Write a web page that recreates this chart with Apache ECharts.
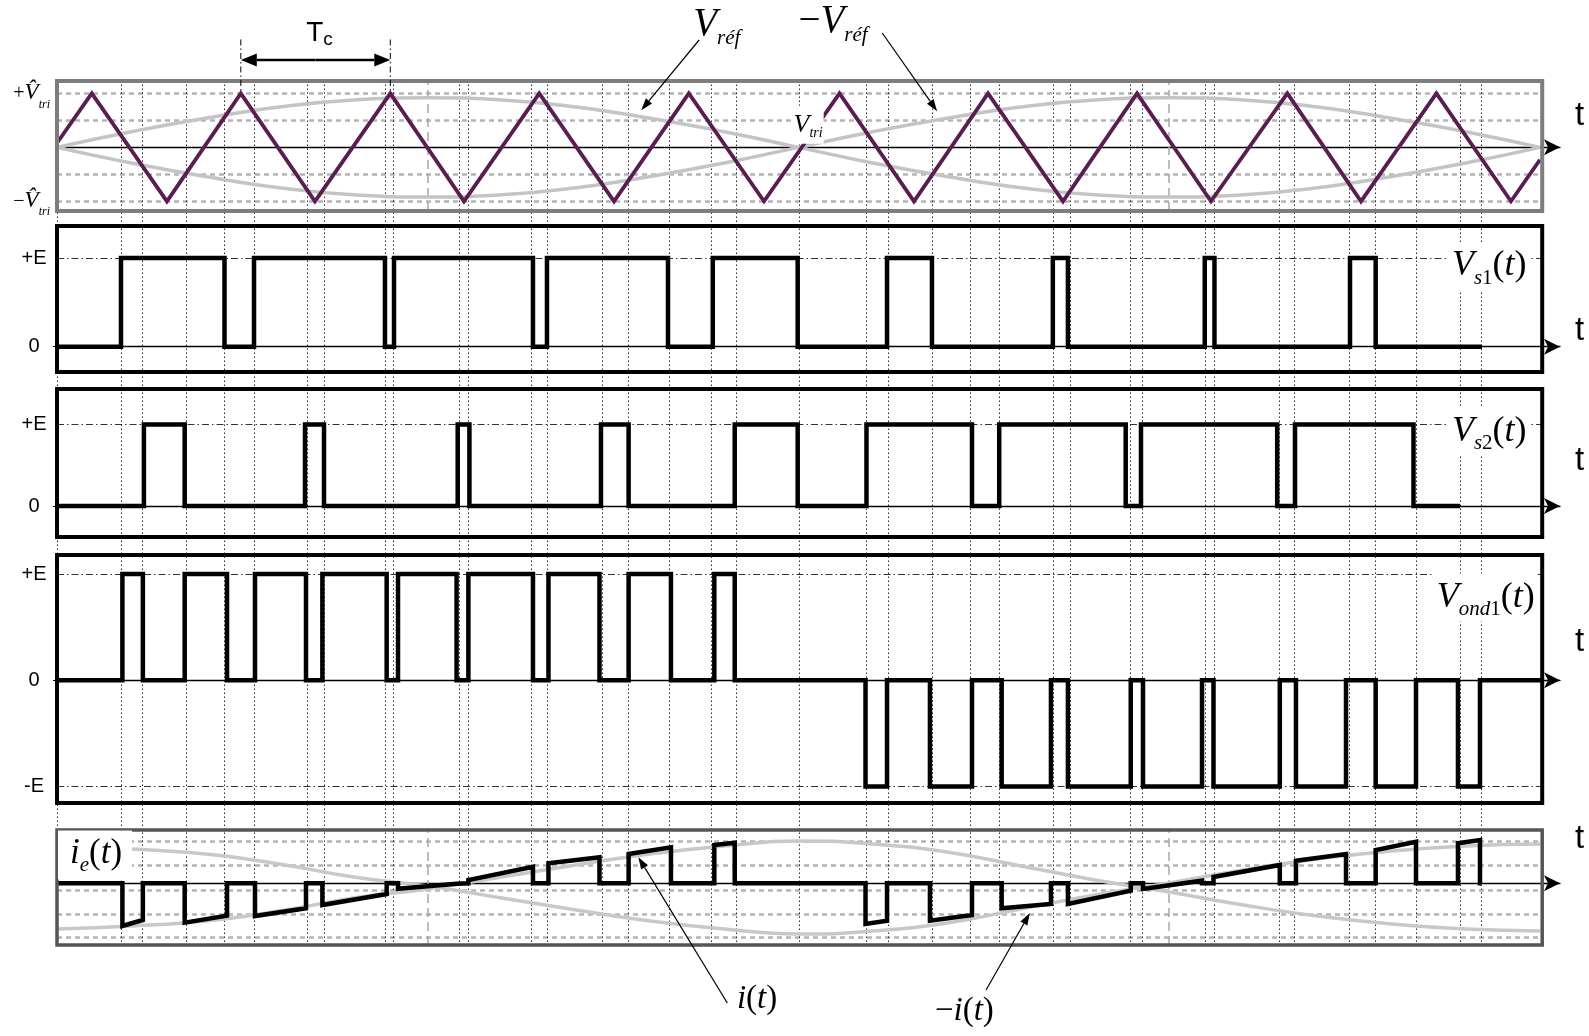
<!DOCTYPE html>
<html>
<head>
<meta charset="utf-8">
<title>MLI unipolaire</title>
<script src="https://cdn.jsdelivr.net/npm/echarts@6.0.0/dist/echarts.min.js"></script>
<style>
  html, body { margin: 0; padding: 0; background: #ffffff; }
  #main { width: 1589px; height: 1036px; }
</style>
</head>
<body>
<div id="main"></div>
<script>
// time in ms over one 20 ms period of the reference, levels normalised (E = 1)
const tBox = 20.03;   // right edge of the panel frames
const tAxis = 20.27;  // end of the t arrows

// carrier triangle, vertices
const triT = [0, 0.469, 1.483, 2.479, 3.479, 4.495, 5.489, 6.504, 7.512, 8.521, 9.535,
  10.553, 11.558, 12.556, 13.567, 14.565, 15.563, 16.593, 17.586, 18.603, 19.609, 20.0];
const triV = [0.08, 1, -1, 1, -1, 1, -1, 1, -1, 1, -1, 1, -1, 1, -1, 1, -1, 1, -1, 1, -1, -0.23];

// references +Vref / -Vref, read every ms
const refT = [0, 1, 2, 3, 4, 5, 6, 7, 8, 9, 10, 11, 12, 13, 14, 15, 16, 17, 18, 19, 20];
const vRef = [0, 0.29, 0.54, 0.75, 0.88, 0.92, 0.88, 0.75, 0.54, 0.29, 0,
  -0.29, -0.54, -0.75, -0.88, -0.92, -0.88, -0.75, -0.54, -0.29, 0];
const vRefNeg = [0, -0.29, -0.54, -0.75, -0.88, -0.92, -0.88, -0.75, -0.54, -0.29, 0,
  0.29, 0.54, 0.75, 0.88, 0.92, 0.88, 0.75, 0.54, 0.29, 0];

// switching instants (dotted verticals through every panel)
const switchTimes = [0, 0.862, 1.150, 1.742, 2.259, 2.658, 3.366, 3.601, 4.426, 4.543, 5.424, 5.541,
  6.387, 6.608, 7.350, 7.695, 8.259, 8.829, 9.160, 10.009, 10.917, 11.207, 11.798, 12.307, 12.707,
  13.430, 13.656, 14.481, 14.632, 15.479, 15.610, 16.477, 16.684, 17.434, 17.784, 18.328, 18.920, 19.212];

// Vs1, Vs2 : intervals at +E
const vs1Pulses = [[0.863, 2.259], [2.657, 4.423], [4.545, 6.419], [6.608, 8.240], [8.844, 9.989],
  [11.194, 11.800], [13.430, 13.634], [15.479, 15.610], [17.438, 17.784]];
const vs1Stop = 19.218;
const vs2Pulses = [[1.172, 1.722], [3.345, 3.601], [5.404, 5.562], [7.336, 7.709], [9.140, 9.989],
  [10.917, 12.340], [12.707, 14.413], [14.619, 16.456], [16.696, 18.294]];
const vs2Stop = 18.921;

// Vond1 : non zero intervals [start, end, level]
const vondPulses = [[0.882, 1.158, 1], [1.722, 2.293, 1], [2.670, 3.358, 1], [3.579, 4.446, 1],
  [4.599, 5.389, 1], [5.548, 6.419, 1], [6.628, 7.316, 1], [7.709, 8.280, 1], [8.865, 9.140, 1],
  [10.904, 11.194, -1], [11.773, 12.340, -1], [12.740, 13.405, -1], [13.634, 14.481, -1],
  [14.646, 15.442, -1], [15.597, 16.491, -1], [16.709, 17.384, -1], [17.784, 18.328, -1], [18.894, 19.191, -1]];

// ie(t) at the start / end of each Vond1 pulse
const ieStart = [-0.949, -0.876, -0.727, -0.482, -0.12, 0.073, 0.444, 0.651, 0.851,
  -0.904, -0.831, -0.556, -0.46, -0.127, 0.14, 0.502, 0.74, 0.889];
const ieEnd = [-0.816, -0.72, -0.556, -0.238, -0.01, 0.369, 0.578, 0.80, 0.902,
  -0.831, -0.704, -0.46, -0.164, 0.058, 0.407, 0.651, 0.924, 0.962];
const ieStop = 19.21;

// grey i(t) and -i(t) of the bottom panel, read every ms
const iGray = [-1.016, -0.949, -0.838, -0.616, -0.327, -0.127, 0.14, 0.407, 0.651, 0.829, 0.94,
  0.873, 0.696, 0.384, 0.073, -0.193, -0.482, -0.727, -0.904, -1.016, -1.06];
const iGrayNeg = [0.829, 0.762, 0.651, 0.429, 0.14, -0.06, -0.327, -0.593, -0.838, -1.016, -1.127,
  -1.06, -0.882, -0.571, -0.26, 0.007, 0.296, 0.54, 0.718, 0.829, 0.873];

// scope grid
const triGridLevels = [1, 0.5, -0.5, -1];
const iGridLevels = [0.924, 0.407, -0.149, -0.68, -1.2];
const scopeT = [5, 15];

const SERIF = '"Liberation Serif", "Times New Roman", serif';
const SANS = '"Liberation Sans", Arial, sans-serif';

// panel layout
const gridBox = [[81, 130], [226, 146], [389, 148], [555, 248], [830, 115], [81, 865]];
const yRange = [[-1.18, 1.23], [-0.285, 1.361], [-0.38, 1.436], [-1.156, 1.18], [-1.371, 1.184], [0, 1]];
const tLift = [31, 16, 45, 38, 44];   // height of the "t" above each time axis, px

function steps(pulses, tStop) {
  const pts = [[0, 0]];
  pulses.forEach(p => {
    const lvl = p.length > 2 ? p[2] : 1;
    pts.push([p[0], 0], [p[0], lvl], [p[1], lvl], [p[1], 0]);
  });
  pts.push([tStop, 0]);
  return pts;
}

const iePts = [[0, 0]];
vondPulses.forEach((p, k) => {
  iePts.push([p[0], 0], [p[0], ieStart[k]], [p[1], ieEnd[k]], [p[1], 0]);
});
iePts.push([ieStop, 0]);

const thick = {color: '#000', width: 4.5, join: 'miter', cap: 'butt'};
const grayDash = {color: '#b4b4b4', width: 2.5, type: [5, 4]};
const scopeV = {color: '#a8a8a8', width: 1.5, type: [9, 5]};
const dashDot = {color: '#333', width: 1, type: [7, 3, 1.5, 3]};
const dotted = {color: '#2a2a2a', width: 1, type: [1.5, 2.5]};

const base = {type: 'line', showSymbol: false, symbol: 'none', silent: true, animation: false, clip: false};
const markBase = {silent: true, symbol: ['none', 'none'], label: {show: false}, emphasis: {disabled: true}, animation: false, z: 1};

function hLines(levels, style) {
  return levels.map(v => [{coord: [0, v], lineStyle: style}, {coord: [tBox, v]}]);
}
function frame(g, color, width) {
  return {
    silent: true, z: 20, label: {show: false}, emphasis: {disabled: true},
    itemStyle: {color: 'rgba(0,0,0,0)', borderColor: color, borderWidth: width},
    data: [[{coord: [0, yRange[g][1]]}, {coord: [tBox, yRange[g][0]]}]]
  };
}
function line(g, data, extra) {
  return Object.assign({}, base, {xAxisIndex: g, yAxisIndex: g, data: data}, extra);
}

const eLabel = {
  show: true, fontFamily: SANS, fontSize: 20, color: '#000', align: 'center', margin: 23
};
const eTick = {show: true, customValues: [0], length: 4, lineStyle: {color: '#000', width: 1}};

const yAxes = yRange.map((r, i) => ({
  type: 'value', gridIndex: i, min: r[0], max: r[1],
  axisLine: {show: false}, axisTick: {show: false}, splitLine: {show: false}, axisLabel: {show: false}
}));
yAxes[0].axisLabel = {
  show: true, customValues: [1, -1], margin: 7,
  formatter: v => (v > 0 ? '{n|+}' : '{n|\u2212}') + '{v|V\u0302}{s|tri}',
  rich: {
    n: {fontFamily: SERIF, fontSize: 20, lineHeight: 34, verticalAlign: 'middle', color: '#000'},
    v: {fontFamily: SERIF, fontStyle: 'italic', fontSize: 23, lineHeight: 34, verticalAlign: 'middle', color: '#000'},
    s: {fontFamily: SERIF, fontStyle: 'italic', fontSize: 12, lineHeight: 12, verticalAlign: 'top', padding: [22, 0, 0, 0], color: '#000'}
  }
};
[1, 2].forEach(i => {
  yAxes[i].axisLabel = Object.assign({customValues: [1, 0], formatter: v => (v > 0 ? '+E' : '0')}, eLabel);
  yAxes[i].axisTick = eTick;
});
yAxes[3].axisLabel = Object.assign({customValues: [1, 0, -1], formatter: v => (v > 0 ? '+E' : (v < 0 ? '-E' : '0'))}, eLabel);
yAxes[3].axisTick = eTick;

const xAxes = gridBox.map((b, i) => ({
  type: 'value', gridIndex: i, min: 0, max: tAxis, show: i < 5,
  axisLine: {show: true, onZero: true, symbol: ['none', 'arrow'], symbolSize: [12, 16], lineStyle: {color: '#000', width: 1.3}},
  axisTick: {show: false}, axisLabel: {show: false}, splitLine: {show: false}
}));

const option = {
  backgroundColor: '#ffffff',
  animation: false,
  grid: gridBox.map(b => ({left: 57, right: 29, top: b[0], height: b[1], containLabel: false, outerBoundsMode: 'none'})),
  xAxis: xAxes,
  yAxis: yAxes,
  series: [
    // carrier and references
    line(0, refT.map((t, k) => [t, vRef[k]]), {
      z: 2, smooth: true, lineStyle: {color: '#c4c4c4', width: 3.5},
      markLine: Object.assign({}, markBase, {
        data: hLines(triGridLevels, grayDash).concat(scopeT.map(t => ({xAxis: t, lineStyle: scopeV})))
      })
    }),
    line(0, refT.map((t, k) => [t, vRefNeg[k]]), {z: 2, smooth: true, lineStyle: {color: '#c4c4c4', width: 3.5}}),
    line(0, triT.map((t, k) => [t, triV[k]]), {
      z: 3, lineStyle: {color: '#5a1d52', width: 3.8, join: 'miter'}, markArea: frame(0, '#7d7d7d', 4)
    }),
    // Vs1
    line(1, steps(vs1Pulses, vs1Stop), {
      z: 3, lineStyle: thick, markArea: frame(1, '#000', 4),
      markLine: Object.assign({}, markBase, {data: hLines([1], dashDot)})
    }),
    // Vs2
    line(2, steps(vs2Pulses, vs2Stop), {
      z: 3, lineStyle: thick, markArea: frame(2, '#000', 4),
      markLine: Object.assign({}, markBase, {data: hLines([1], dashDot)})
    }),
    // Vond1
    line(3, steps(vondPulses, tBox), {
      z: 3, lineStyle: thick, markArea: frame(3, '#000', 4),
      markLine: Object.assign({}, markBase, {data: hLines([1, -1], dashDot)})
    }),
    // ie
    line(4, refT.map((t, k) => [t, iGray[k]]), {
      z: 2, smooth: true, lineStyle: {color: '#c8c8c8', width: 3.5},
      markLine: Object.assign({}, markBase, {
        data: hLines(iGridLevels, grayDash).concat(scopeT.map(t => ({xAxis: t, lineStyle: scopeV})))
      })
    }),
    line(4, refT.map((t, k) => [t, iGrayNeg[k]]), {z: 2, smooth: true, lineStyle: {color: '#c8c8c8', width: 3.5}}),
    line(4, iePts, {z: 3, lineStyle: thick, markArea: frame(4, '#555', 3.5)}),
    // switching instants
    line(5, [], {
      markLine: Object.assign({}, markBase, {data: switchTimes.map(t => ({xAxis: t, lineStyle: dotted}))})
    })
  ]
};

const chart = echarts.init(document.getElementById('main'), null, {renderer: 'canvas'});
chart.setOption(option);

// annotations, anchored in data coordinates of each panel
const px = (g, t, v) => chart.convertToPixel({gridIndex: g}, [t, v]);

function serifRich(S, s) {
  const lh = S + 12;
  const drop = Math.round(lh / 2 + 0.5375 * S - 0.8375 * s);
  const main = {fontFamily: SERIF, fontSize: S, lineHeight: lh, verticalAlign: 'middle', fill: '#000'};
  const sub = {fontFamily: SERIF, fontSize: s, lineHeight: s, verticalAlign: 'top', padding: [drop, 0, 0, 0], fill: '#000'};
  return {
    v: Object.assign({fontStyle: 'italic'}, main), u: main,
    s: Object.assign({fontStyle: 'italic'}, sub), d: sub
  };
}
function sansRich(S, s) {
  const lh = S + 10;
  const drop = Math.round(lh / 2 + 0.45 * S - 0.8 * s);
  return {
    T: {fontFamily: SANS, fontSize: S, lineHeight: lh, verticalAlign: 'middle', fill: '#000'},
    c: {fontFamily: SANS, fontSize: s, lineHeight: s, verticalAlign: 'top', padding: [drop, 0, 0, 0], fill: '#000'}
  };
}
function label(g, t, v, text, rich, align, extra) {
  const p = px(g, t, v);
  return {
    type: 'text', z: 30, silent: true,
    style: Object.assign({
      text: text, x: p[0], y: p[1], rich: rich, fill: '#000',
      align: align, textAlign: align, verticalAlign: 'middle', textVerticalAlign: 'middle'
    }, extra || {})
  };
}
function arrow(p0, p1, w, hl, hw) {
  const dx = p1[0] - p0[0], dy = p1[1] - p0[1];
  const L = Math.hypot(dx, dy), ux = dx / L, uy = dy / L;
  const bx = p1[0] - ux * hl, by = p1[1] - uy * hl;
  return [
    {type: 'line', z: 30, silent: true, shape: {x1: p0[0], y1: p0[1], x2: bx, y2: by}, style: {stroke: '#000', lineWidth: w}},
    {type: 'polygon', z: 30, silent: true,
      shape: {points: [[p1[0], p1[1]], [bx - uy * hw / 2, by + ux * hw / 2], [bx + uy * hw / 2, by - ux * hw / 2]]},
      style: {fill: '#000'}}
  ];
}

const els = [];
// "t" at the end of each time axis
tLift.forEach((lift, g) => {
  const p = px(g, tAxis, 0);
  els.push({type: 'text', z: 30, silent: true,
    style: {text: 't', x: p[0] + 15, y: p[1] - lift, fontFamily: SANS, fontSize: 33, fill: '#000',
      align: 'left', textAlign: 'left', verticalAlign: 'middle', textVerticalAlign: 'middle'}});
});

// Tc : one carrier period, between two peaks
const tcA = triT[3], tcB = triT[5];
[tcA, tcB].forEach(t => {
  const a = px(0, t, 2.0), b = px(0, t, 1.0);
  els.push({type: 'line', z: 30, silent: true, shape: {x1: a[0], y1: a[1], x2: b[0], y2: b[1]},
    style: {stroke: '#000', lineWidth: 1, lineDash: [6, 3, 1.5, 3]}});
});
const ta = px(0, tcA, 1.62), tb = px(0, tcB, 1.62), tm = [(ta[0] + tb[0]) / 2, ta[1]];
els.push(...arrow(tm, tb, 2.5, 16, 13), ...arrow(tm, ta, 2.5, 16, 13));
els.push(label(0, 3.36, 2.12, '{T|T}{c|c}', sansRich(28, 19), 'left'));

// references and carrier names
els.push(label(0, 8.58, 2.28, '{v|V}{s|réf}', serifRich(39, 21), 'left'));
els.push(...arrow(px(0, 8.66, 1.99), px(0, 7.88, 0.69), 1.2, 12, 8));
els.push(label(0, 10.0, 2.33, '{u|\u2212}{v|V}{s|réf}', serifRich(39, 21), 'left'));
els.push(...arrow(px(0, 11.13, 2.12), px(0, 11.87, 0.67), 1.2, 12, 8));
els.push(label(0, 9.92, 0.42, '{v|V}{s|tri}', serifRich(26, 14), 'left', {backgroundColor: '#fff', padding: [0, 1, 0, 1]}));

// signal names
const white = {backgroundColor: '#fff', padding: [0, 3, 0, 3]};
els.push(label(1, 19.86, 0.91, '{v|V}{s|s}{d|1}{u|(}{v|t}{u|)}', serifRich(36, 21), 'right', white));
els.push(label(2, 19.86, 0.92, '{v|V}{s|s}{d|2}{u|(}{v|t}{u|)}', serifRich(36, 21), 'right', white));
els.push(label(3, 19.97, 0.78, '{v|V}{s|ond}{d|1}{u|(}{v|t}{u|)}', serifRich(36, 21), 'right', white));
els.push(label(4, 0.013, 0.63, '{v|i}{s|e}{u|(}{v|t}{u|)}', serifRich(35, 21), 'left',
  {backgroundColor: '#fff', padding: [0, 10, 2, 12]}));

// current names
els.push(label(4, 9.17, -2.57, '{v|i}{u|(}{v|t}{u|)}', serifRich(33, 19), 'left'));
els.push(...arrow(px(4, 9.04, -2.66), px(4, 7.84, 0.58), 1.2, 12, 8));
els.push(label(4, 11.84, -2.84, '{u|\u2212}{v|i}{u|(}{v|t}{u|)}', serifRich(33, 19), 'left'));
els.push(...arrow(px(4, 12.53, -2.37), px(4, 13.12, -0.66), 1.2, 12, 8));

chart.setOption({graphic: {elements: els}});
</script>
</body>
</html>
